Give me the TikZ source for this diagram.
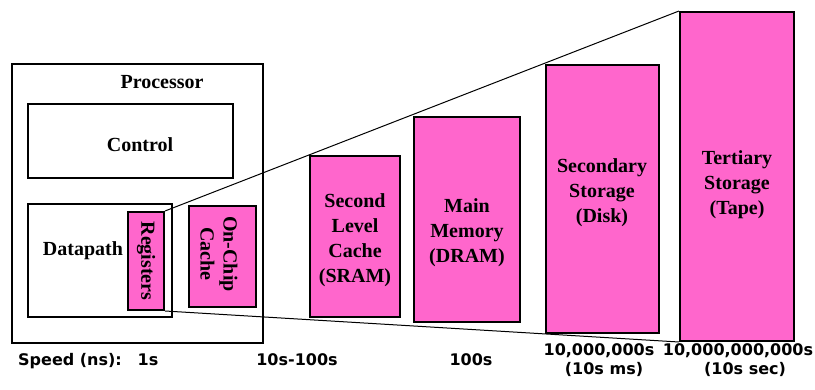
\documentclass[tikz,border=0pt]{standalone}
\usepackage{fontspec}
\setmainfont{Liberation Serif}
\newfontfamily\speedfont{DejaVu Sans}
\usepackage{tikz}
\usetikzlibrary{fit, backgrounds}
\definecolor{hotpink}{RGB}{255, 102, 204}

\begin{document}
\begin{tikzpicture}[x=1pt, y=-1pt,
    plainbox/.style={draw=black, line width=2pt, inner sep=0pt},
    membox/.style={plainbox, fill=hotpink},
    boxtxt/.style={font=\bfseries\fontsize{20}{25}\selectfont, align=center, anchor=base, inner sep=0pt},
    speed/.style={font=\speedfont\bfseries\fontsize{16}{18}\selectfont, anchor=base, inner sep=0pt}]
  \useasboundingbox (0,0) rectangle (815,390);

  % processor
  \node[plainbox, fit={(12,64) (263,343)}] (proc) {};
  \node[boxtxt] (proctxt) at (162,89) {Processor};
  \node[plainbox, fit={(28,104) (233,178)}] (ctrl) {};
  \node[boxtxt] (ctrltxt) at (140,152) {Control};
  \node[plainbox, fit={(28,204) (172,317)}] (dpath) {};
  \node[boxtxt] (dpathtxt) at (83,256) {Datapath};
  \node[membox, fit={(128,212) (164,310)}] (regs) {};
  \node[boxtxt, anchor=center, rotate=-90] (regstxt) at (146,261) {Registers};
  \node[membox, fit={(189,206) (256,307)}] (onchip) {};
  \node[boxtxt, anchor=center, rotate=-90, font=\bfseries\fontsize{20}{23}\selectfont] (onchiptxt) at (219,254) {On-Chip\\Cache};

  % memory levels (base = last line)
  \node[membox, fit={(310,156) (400,317)}] (sram) {};
  \node[boxtxt] (sramtxt) at (355,283) {Second\\Level\\Cache\\(SRAM)};
  \node[membox, fit={(414,117) (520,322)}] (dram) {};
  \node[boxtxt] (dramtxt) at (467,263) {Main\\Memory\\(DRAM)};
  \node[membox, fit={(546,65) (659,333)}] (disk) {};
  \node[boxtxt] (disktxt) at (602,223) {Secondary\\Storage\\(Disk)};
  \node[membox, fit={(680,12) (794,341)}] (tape) {};
  \node[boxtxt] (tapetxt) at (737,215) {Tertiary\\Storage\\(Tape)};

  % hierarchy outline
  \begin{scope}[on background layer]
    \draw[line width=1pt] (regs.north east) -- (tape.north west);
    \draw[line width=1pt] (regs.south east) -- (tape.south west);
  \end{scope}

  % speeds
  \node[speed, anchor=base west] (spdlbl) at (18,366) {Speed (ns):};
  \node[speed] (spd1) at (148,366) {1s};
  \node[speed] (spd2) at (297,366) {10s-100s};
  \node[speed] (spd3) at (471,366) {100s};
  \node[speed] (spd4) at (599,356) {10,000,000s};
  \node[speed] (spd4b) at (604,374) {(10s ms)};
  \node[speed] (spd5) at (738,356) {10,000,000,000s};
  \node[speed] (spd5b) at (745,374) {(10s sec)};
\end{tikzpicture}
\end{document}
